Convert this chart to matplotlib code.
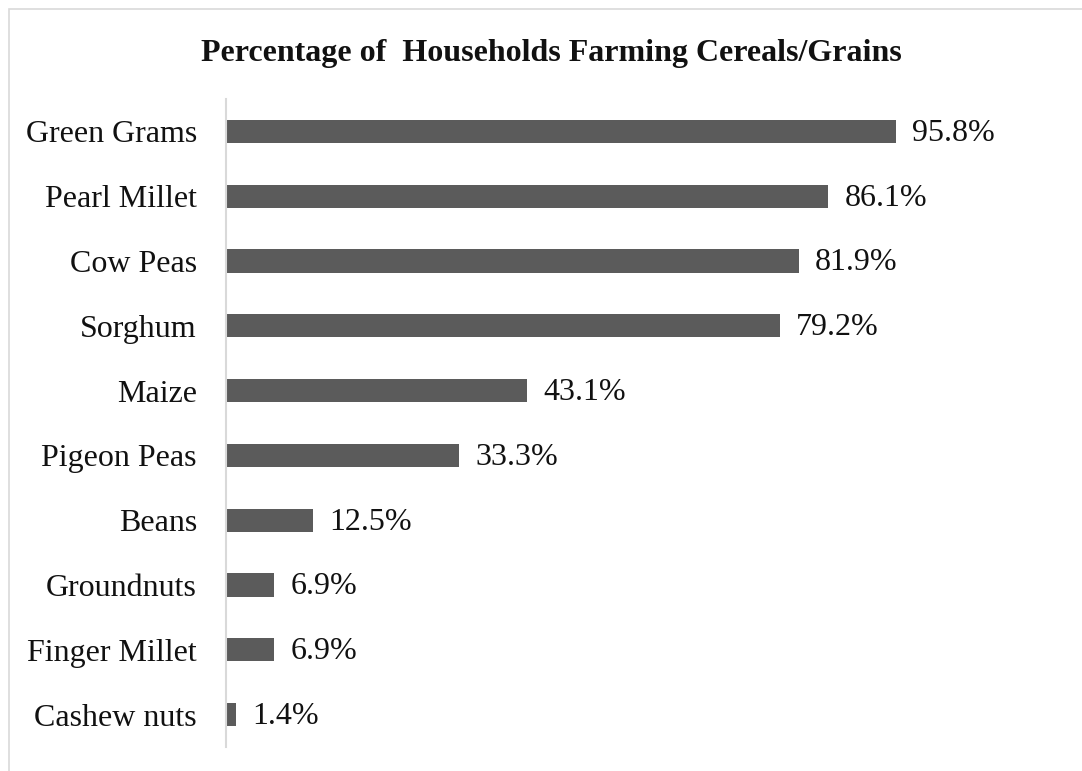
import matplotlib.pyplot as plt
from matplotlib.patches import Rectangle

crops = ["Green Grams", "Pearl Millet", "Cow Peas", "Sorghum", "Maize",
         "Pigeon Peas", "Beans", "Groundnuts", "Finger Millet", "Cashew nuts"]
share = [95.8, 86.1, 81.9, 79.2, 43.1, 33.3, 12.5, 6.9, 6.9, 1.4]

plt.rcParams['font.family'] = ['Liberation Serif', 'DejaVu Serif']

W, H = 1082, 771
fig = plt.figure(figsize=(W / 100, H / 100), dpi=100)
ax = fig.add_axes([226 / W, 1 - 747 / H, (925.4 - 226) / W, (747 - 99) / H])

# outer frame, only top and left edges fall inside the image
fig.patches.append(Rectangle((9 / W, -0.1), 1.2, 1 - 9 / H + 0.1,
                             transform=fig.transFigure, fill=False,
                             edgecolor='#d9d9d9', linewidth=1.2))

ypos = list(range(len(crops)))
ax.barh(ypos, share, height=0.355, color='#5b5b5b')
ax.set_ylim(len(crops) - 0.5, -0.5)
ax.set_xlim(0, 100)

for y, v in zip(ypos, share):
    ax.text(v + 2.3, y + 0.03, f"{v:.1f}%", va='center', ha='left', fontsize=23,
            color='#111111')

ax.set_yticks(ypos)
ax.set_yticklabels(crops, fontsize=23, color='#111111')
ax.tick_params(axis='y', length=0, pad=21)
ax.set_xticks([])
for s in ['top', 'right', 'bottom']:
    ax.spines[s].set_visible(False)
ax.spines['left'].set_color('#d9d9d9')
ax.spines['left'].set_linewidth(1.5)

fig.text(551 / W, 1 - 53 / H, "Percentage of  Households Farming Cereals/Grains",
         ha='center', va='center', fontsize=23, fontweight='bold',
         color='#111111')

fig.savefig('out.png', dpi=100)
